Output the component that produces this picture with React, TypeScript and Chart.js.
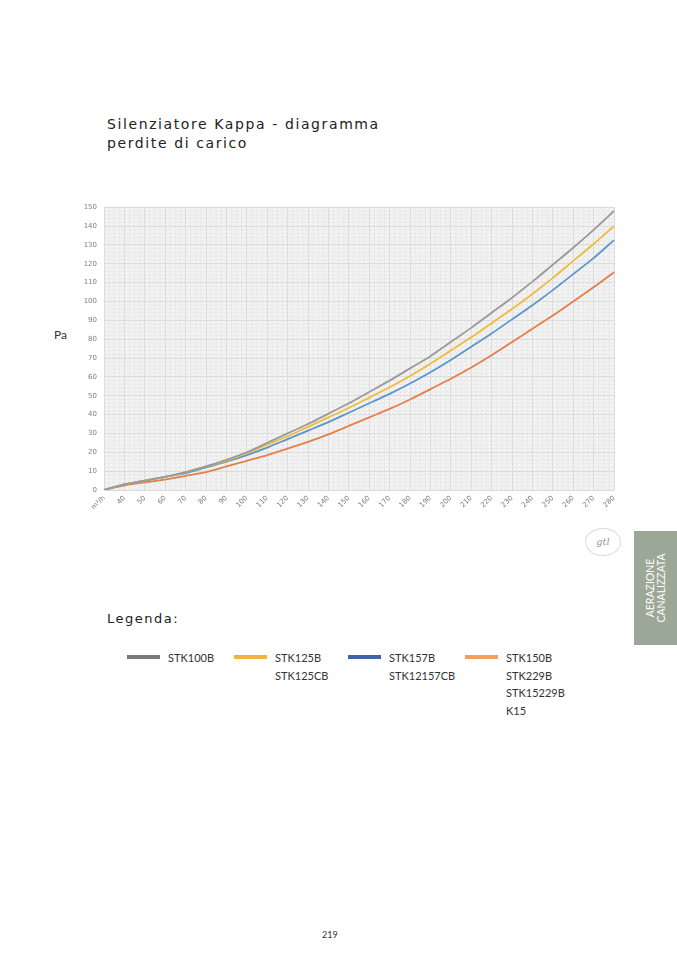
import { useEffect, useRef } from "react"
import { Chart, registerables } from "chart.js"

Chart.register(...registerables)

// portate (m³/h) sull'asse x
const categories = [
  "m³/h", "40", "50", "60", "70", "80", "90", "100", "110", "120", "130", "140", "150",
  "160", "170", "180", "190", "200", "210", "220", "230", "240", "250", "260", "270", "280",
]

const stk100b = [0, 3, 5, 7, 9.5, 12.5, 16, 20, 25, 30, 35, 40.5, 46, 52, 58, 64.5, 71, 78.5, 86, 94, 102, 110.5, 119.5, 128.5, 138, 148]
const stk125b = [0, 3, 5, 7, 9.5, 12.5, 15.5, 19.5, 24, 28.5, 33.5, 38.5, 43.5, 49, 54.5, 60.5, 67, 74, 81, 88.5, 96, 104, 112.5, 121.5, 130.5, 140]
const stk157b = [0, 3, 5, 7, 9, 12, 15, 18.5, 22.5, 27, 31.5, 36, 41, 46, 51, 56.5, 62.5, 69, 76, 83, 90.5, 98, 106, 114.5, 123, 132.5]
const stk150b = [0, 2.5, 4, 5.5, 7.5, 9.5, 12.5, 15.5, 18.5, 22, 25.5, 29.5, 34, 38.5, 43, 48, 53.5, 59, 65, 71.5, 78.5, 85.5, 92.5, 100, 107.5, 115.5]

const yTicksMax = 150
const yStep = 10

// voci della legenda
const legendNames = [
  ["STK100B"],
  ["STK125B", "STK125CB"],
  ["STK157B", "STK12157CB"],
  ["STK150B", "STK229B", "STK15229B", "K15"],
]
const lineColors = ["#9a9a9a", "#edbd3a", "#5a96cc", "#e57f48"]
const legendColors = ["#7a7a7a", "#f0b43e", "#3f66a3", "#f0a062"]

const gridBackground = {
  id: "gridBackground",
  beforeDraw(chart: any) {
    const { ctx, chartArea, scales } = chart
    if (!chartArea) return
    const { left, top, right, bottom } = chartArea
    ctx.save()
    // trama diagonale leggera
    const tile = document.createElement("canvas")
    tile.width = 4
    tile.height = 4
    const t = tile.getContext("2d")!
    t.fillStyle = "#f6f6f6"
    t.fillRect(0, 0, 4, 4)
    t.strokeStyle = "#e8e8e8"
    t.lineWidth = 1
    t.beginPath()
    t.moveTo(0, 4)
    t.lineTo(4, 0)
    t.stroke()
    ctx.fillStyle = ctx.createPattern(tile, "repeat")
    ctx.fillRect(left, top, right - left, bottom - top)

    // griglia secondaria
    ctx.strokeStyle = "#e4e4e4"
    ctx.lineWidth = 0.6
    for (let v = 0; v <= yTicksMax; v += 2) {
      const y = scales.y.getPixelForValue(v)
      ctx.beginPath()
      ctx.moveTo(left, y)
      ctx.lineTo(right, y)
      ctx.stroke()
    }
    for (let i = 0; i < categories.length - 1; i++) {
      const a = scales.x.getPixelForValue(i)
      const b = scales.x.getPixelForValue(i + 1)
      for (let k = 1; k < 4; k++) {
        const x = a + ((b - a) * k) / 4
        ctx.beginPath()
        ctx.moveTo(x, top)
        ctx.lineTo(x, bottom)
        ctx.stroke()
      }
    }
    ctx.restore()
  },
}

function PressureChart() {
  const chartRef = useRef<HTMLCanvasElement>(null)
  const chartInstance = useRef<Chart | null>(null)

  useEffect(() => {
    if (!chartRef.current) return
    if (chartInstance.current) chartInstance.current.destroy()
    const ctx = chartRef.current.getContext("2d")
    if (!ctx) return

    const series = [stk100b, stk125b, stk157b, stk150b]

    chartInstance.current = new Chart(ctx, {
      type: "line",
      data: {
        labels: categories,
        datasets: series.map((s, i) => ({
          label: legendNames[i][0],
          data: s,
          borderColor: lineColors[i],
          backgroundColor: lineColors[i],
          borderWidth: 1.8,
          pointRadius: 0,
          tension: 0.25,
          fill: false,
        })),
      },
      options: {
        animation: false,
        responsive: true,
        maintainAspectRatio: false,
        layout: { padding: { top: 10, right: 12, left: 0, bottom: 0 } },
        plugins: {
          legend: { display: false },
          tooltip: { enabled: false },
        },
        scales: {
          x: {
            grid: { color: "#dcdcdc", lineWidth: 1, drawTicks: false },
            border: { display: false },
            ticks: {
              minRotation: 45,
              maxRotation: 45,
              autoSkip: false,
              padding: 4,
              color: "#7e7e7e",
              font: { family: "DejaVu Sans", size: 7 },
            },
            afterFit: (scale: any) => {
              scale.height = 30
            },
          },
          y: {
            min: 0,
            max: yTicksMax,
            grid: { color: "#dcdcdc", lineWidth: 1, drawTicks: false },
            border: { display: false },
            ticks: {
              stepSize: yStep,
              padding: 7,
              color: "#7e7e7e",
              font: { family: "DejaVu Sans", size: 7 },
            },
            afterFit: (scale: any) => {
              scale.width = 34
            },
          },
        },
      },
      plugins: [gridBackground],
    })

    return () => {
      if (chartInstance.current) chartInstance.current.destroy()
    }
  }, [])

  return <canvas ref={chartRef} />
}

export default function App() {
  const legendX = [127, 234, 348, 465]

  return (
    <div
      style={{
        position: "absolute",
        left: 0,
        top: 0,
        width: 677,
        height: 958,
        overflow: "hidden",
        background: "#ffffff",
        fontFamily: "Lato, sans-serif",
        color: "#2a2a2a",
      }}
    >
      <div
        style={{
          position: "absolute",
          left: 107,
          top: 115,
          fontFamily: "'DejaVu Sans', sans-serif",
          fontSize: 14,
          lineHeight: "19px",
          letterSpacing: 1.6,
          color: "#222",
        }}
      >
        Silenziatore Kappa - diagramma
        <br />
        perdite di carico
      </div>

      <div style={{ position: "absolute", left: 54, top: 327, fontSize: 12, color: "#333" }}>Pa</div>

      <div style={{ position: "absolute", left: 70, top: 196, width: 556, height: 324 }}>
        <PressureChart />
      </div>

      {/* timbro */}
      <div
        style={{
          position: "absolute",
          left: 585,
          top: 528,
          width: 34,
          height: 26,
          borderRadius: "50%",
          border: "1px solid #dadada",
          color: "#9a9a9a",
          fontFamily: "'DejaVu Serif', serif",
          fontStyle: "italic",
          fontSize: 10,
          lineHeight: "26px",
          textAlign: "center",
        }}
      >
        gtl
      </div>

      {/* linguetta laterale */}
      <div
        style={{
          position: "absolute",
          left: 634,
          top: 531,
          width: 43,
          height: 114,
          background: "#9ba897",
        }}
      >
        <div
          style={{
            position: "absolute",
            left: "50%",
            top: "50%",
            transform: "translate(-50%, -50%) rotate(-90deg)",
            color: "#ffffff",
            fontFamily: "Lato, sans-serif",
            fontSize: 10.5,
            lineHeight: "11px",
            textAlign: "center",
            whiteSpace: "nowrap",
          }}
        >
          AERAZIONE
          <br />
          CANALIZZATA
        </div>
      </div>

      <div
        style={{
          position: "absolute",
          left: 107,
          top: 611,
          fontFamily: "'DejaVu Sans', sans-serif",
          fontSize: 13,
          letterSpacing: 1.5,
          color: "#222",
        }}
      >
        Legenda:
      </div>

      {legendNames.map((names, i) => (
        <div key={i} style={{ position: "absolute", left: legendX[i], top: 649 }}>
          <div
            style={{
              position: "absolute",
              left: 0,
              top: 6,
              width: 33,
              height: 4,
              background: legendColors[i],
            }}
          />
          <div style={{ position: "absolute", left: 41, top: 0, fontSize: 11, lineHeight: "17.7px", whiteSpace: "nowrap", color: "#333" }}>
            {names.map((n) => (
              <div key={n}>{n}</div>
            ))}
          </div>
        </div>
      ))}

      <div style={{ position: "absolute", left: 322, top: 929, fontSize: 9, color: "#333" }}>219</div>
    </div>
  )
}
